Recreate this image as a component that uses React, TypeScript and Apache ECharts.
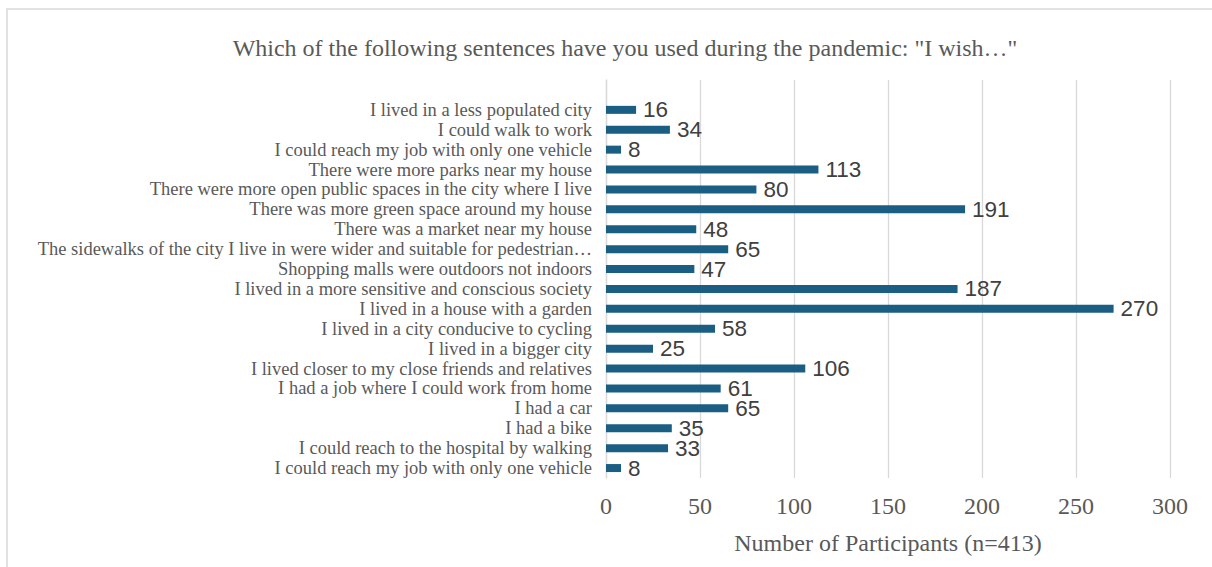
import React, { useEffect, useRef } from "react";
import * as echarts from "echarts";

const title = 'Which of the following sentences have you used during the pandemic: "I wish…"';
const axisName = "Number of Participants (n=413)";

// top to bottom; first entry is an empty slot at the top of the plot
const categories = [
  "",
  "I lived in a less populated city",
  "I could walk to work",
  "I could reach my job with only one vehicle",
  "There were more parks near my house",
  "There were more open public spaces in the city where I live",
  "There was more green space around my house",
  "There was a market near my house",
  "The sidewalks of the city I live in were wider and suitable for pedestrian…",
  "Shopping malls were outdoors not indoors",
  "I lived in a more sensitive and conscious society",
  "I lived in a house with a garden",
  "I lived in a city conducive to cycling",
  "I lived in a bigger city",
  "I lived closer to my close friends and relatives",
  "I had a job where I could work from home",
  "I had a car",
  "I had a bike",
  "I could reach to the hospital by walking",
  "I could reach my job with only one vehicle",
];

const values: (number | null)[] = [
  null, 16, 34, 8, 113, 80, 191, 48, 65, 47, 187, 270, 58, 25, 106, 61, 65, 35, 33, 8,
];

const xTicks = { min: 0, max: 300, interval: 50 };

export default function App() {
  const ref = useRef<HTMLDivElement>(null);
  useEffect(() => {
    if (!ref.current) return;
    const chart = echarts.init(ref.current, undefined, { renderer: "svg" });
    chart.setOption({
      animation: false,
      backgroundColor: "#ffffff",
      title: {
        text: title,
        left: 620,
        textAlign: "center",
        top: 31,
        textStyle: {
          fontFamily: "Liberation Serif, Times New Roman, serif",
          fontSize: 24,
          fontWeight: "normal",
          color: "#595959",
        },
      },
      graphic: [
        {
          type: "rect",
          shape: { x: 7, y: 9, width: 1400, height: 800 },
          style: { fill: "none", stroke: "#d9d9d9", lineWidth: 1.5 },
          silent: true,
          z: -1,
        },
      ],
      grid: { left: 606, right: 42, top: 80, height: 398, containLabel: false },
      xAxis: {
        type: "value",
        min: xTicks.min,
        max: xTicks.max,
        interval: xTicks.interval,
        name: axisName,
        nameLocation: "middle",
        nameGap: 53,
        nameTextStyle: {
          fontFamily: "Liberation Serif, Times New Roman, serif",
          fontSize: 24,
          color: "#595959",
        },
        axisLine: { show: false },
        axisTick: { show: false },
        axisLabel: {
          margin: 16,
          fontFamily: "Liberation Serif, Times New Roman, serif",
          fontSize: 24,
          color: "#595959",
        },
        splitLine: { show: true, lineStyle: { color: "#d9d9d9", width: 1.3 } },
      },
      yAxis: {
        type: "category",
        data: categories,
        inverse: true,
        axisLine: { show: true, lineStyle: { color: "#d9d9d9", width: 1.3 } },
        axisTick: { show: false },
        axisLabel: {
          margin: 14,
          interval: 0,
          fontFamily: "Liberation Serif, Times New Roman, serif",
          fontSize: 18.5,
          lineHeight: 19,
          color: "#595959",
        },
      },
      series: [
        {
          type: "bar",
          data: values,
          barWidth: 8,
          itemStyle: { color: "#1b5e84" },
          label: {
            show: true,
            position: "right",
            distance: 7,
            fontFamily: "Liberation Sans, Arial, sans-serif",
            fontSize: 22.5,
            lineHeight: 18,
            color: "#404040",
          },
        },
      ],
    });
    return () => chart.dispose();
  }, []);
  return (
    <div
      ref={ref}
      style={{ position: "fixed", left: 0, top: 0, width: 1212, height: 567 }}
    />
  );
}
